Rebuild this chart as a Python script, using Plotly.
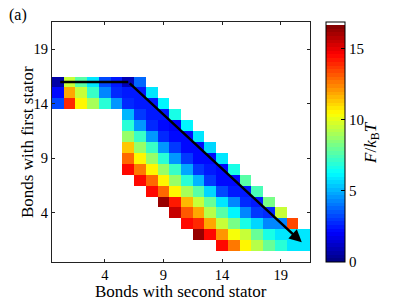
import numpy as np
import plotly.graph_objects as go

# ---- data (F / k_B T per cell); each row: start column + values ----
row16 = [0.6, 9.6, 7.8, 5.8, 3.2, 2.5, 0.8, 3.8]
row15 = [2.2, 12.0, 9.4, 7.2, 4.4, 2.7, 2.4, 2.4, 5.8]
row14 = [3.2, 14.0, 10.6, 9.0, 6.8, 4.6, 2.7, 2.6, 2.4, 6.2]
row13 = [5.2, 3.0, 2.4, 2.4, 6.6]
row12 = [6.8, 4.6, 2.7, 2.3, 2.0, 6.2]
row11 = [8.8, 7.2, 4.6, 2.8, 2.3, 2.3, 6.0]
row10 = [11.4, 8.8, 7.2, 4.6, 3.0, 2.3, 2.1, 5.6]
row9 = [13.0, 10.6, 8.8, 6.8, 4.6, 3.0, 2.3, 2.3, 6.0]
row8 = [14.6, 12.6, 10.6, 8.8, 7.2, 4.8, 3.0, 2.6, 2.3, 6.6]
row7 = [14.6, 13.0, 10.6, 8.8, 7.0, 5.2, 3.0, 2.3, 2.3, 7.6]
row6 = [14.6, 13.0, 10.6, 9.0, 7.6, 5.6, 3.3, 2.6, 2.5, 7.4]
row5 = [16.4, 14.2, 11.6, 9.4, 8.0, 6.0, 4.3, 2.8, 2.5, 8.2]
row4 = [15.6, 13.2, 12.0, 9.2, 7.8, 6.2, 4.4, 3.0, 2.7, 9.6]
row3 = [14.6, 14.0, 12.0, 9.6, 8.2, 6.6, 5.6, 4.2, 4.4, 13.4]
row2 = [16.4, 14.4, 12.2, 10.4, 9.4, 8.0, 6.6, 6.0, 5.8, 5.8]
row1 = [14.6, 12.6, 10.6, 9.2, 8.0, 6.8, 5.8, 5.8]

row_index = [16, 15, 14, 13, 12, 11, 10, 9, 8, 7, 6, 5, 4, 3, 2, 1]
row_start = [0, 0, 0, 6, 6, 6, 6, 6, 6, 7, 8, 9, 10, 11, 12, 14]
row_values = [row16, row15, row14, row13, row12, row11, row10, row9, row8,
              row7, row6, row5, row4, row3, row2, row1]

second_stator = list(range(22))   # x categories
first_stator = list(range(22))    # y categories

tick_vals = [4, 9, 14, 19]
cbar_ticks = [0, 5, 10, 15]

# arrow path (data coordinates)
path_x = [0.2, 6.0]
path_y = [16.0, 16.0]
arrow_tail = (6.0, 16.0)
arrow_head = (20.8, 1.3)

zmax = 16.9
jet_top = 16.7

# ---- build grid ----
Z = np.full((len(first_stator), len(second_stator)), np.nan)
for r, s, vals in zip(row_index, row_start, row_values):
    for k, v in enumerate(vals):
        Z[r, s + k] = v


def jet(t):
    r = min(max(1.5 - abs(4 * t - 3), 0), 1)
    g = min(max(1.5 - abs(4 * t - 2), 0), 1)
    b = min(max(1.5 - abs(4 * t - 1), 0), 1)
    return f"rgb({int(round(r*255))},{int(round(g*255))},{int(round(b*255))})"


n = 64
frac = jet_top / zmax
cs = []
for i in range(n):
    c = jet((i + 0.5) / n)
    cs.append([i / n * frac, c])
    cs.append([(i + 1) / n * frac, c])
cs.append([frac, "rgb(255,255,255)"])
cs.append([1.0, "rgb(255,255,255)"])

font_family = "Liberation Serif, Times New Roman, serif"

fig = go.Figure()
fig.add_trace(go.Heatmap(
    z=Z, x=second_stator, y=first_stator,
    zmin=0, zmax=zmax, colorscale=cs,
    colorbar=dict(
        x=1.062, xanchor="left", y=0.5, yanchor="middle", len=1.0,
        lenmode="fraction", thickness=19, thicknessmode="pixels",
        outlinecolor="black", outlinewidth=1,
        tickvals=cbar_ticks, ticks="inside", ticklen=4, tickcolor="black",
        tickfont=dict(family=font_family, size=15, color="black"),
        xpad=0, ypad=0,
    ),
    hoverongaps=False,
))

fig.add_trace(go.Scatter(
    x=path_x, y=path_y, mode="lines",
    line=dict(color="black", width=2.5), showlegend=False, hoverinfo="skip",
))

fig.add_annotation(
    x=arrow_head[0], y=arrow_head[1], ax=arrow_tail[0], ay=arrow_tail[1],
    xref="x", yref="y", axref="x", ayref="y",
    showarrow=True, arrowhead=2, arrowsize=1.0, arrowwidth=2.5,
    arrowcolor="black", text="",
)

fig.add_annotation(
    text="(a)", xref="paper", yref="paper", x=-0.175, y=1.03,
    xanchor="left", yanchor="middle", showarrow=False,
    font=dict(family=font_family, size=16, color="black"),
)

fig.add_annotation(
    text="<i>F</i>/<i>k</i><sub>B</sub><i>T</i>", xref="paper", yref="paper",
    x=1.24, y=0.5, xanchor="center", yanchor="middle", textangle=-90,
    showarrow=False, font=dict(family=font_family, size=17, color="black"),
)

# axis titles as annotations for exact placement
fig.add_annotation(
    text="Bonds with second stator", xref="paper", yref="paper",
    x=0.5, y=-0.122, xanchor="center", yanchor="middle", showarrow=False,
    font=dict(family=font_family, size=17, color="black"),
)
fig.add_annotation(
    text="Bonds with first stator", xref="paper", yref="paper",
    x=-0.097, y=0.5, xanchor="center", yanchor="middle", showarrow=False,
    textangle=-90, font=dict(family=font_family, size=17, color="black"),
)

axis_common = dict(
    showline=True, linecolor="#222", linewidth=1, mirror="ticks",
    ticks="inside", ticklen=3, tickcolor="#222",
    tickvals=tick_vals, showgrid=False, zeroline=False,
    range=[-0.5, 21.5],
    tickfont=dict(family=font_family, size=14.5, color="black"),
)

fig.update_xaxes(**axis_common)
fig.update_yaxes(**axis_common)

fig.update_layout(
    width=399, height=300,
    margin=dict(l=52, r=89, t=22, b=38, autoexpand=False),
    plot_bgcolor="white", paper_bgcolor="white",
    showlegend=False,
)

fig.write_html("out.html", config={"displayModeBar": False},
               post_script="document.body.style.margin='0';document.body.style.overflow='hidden';")
